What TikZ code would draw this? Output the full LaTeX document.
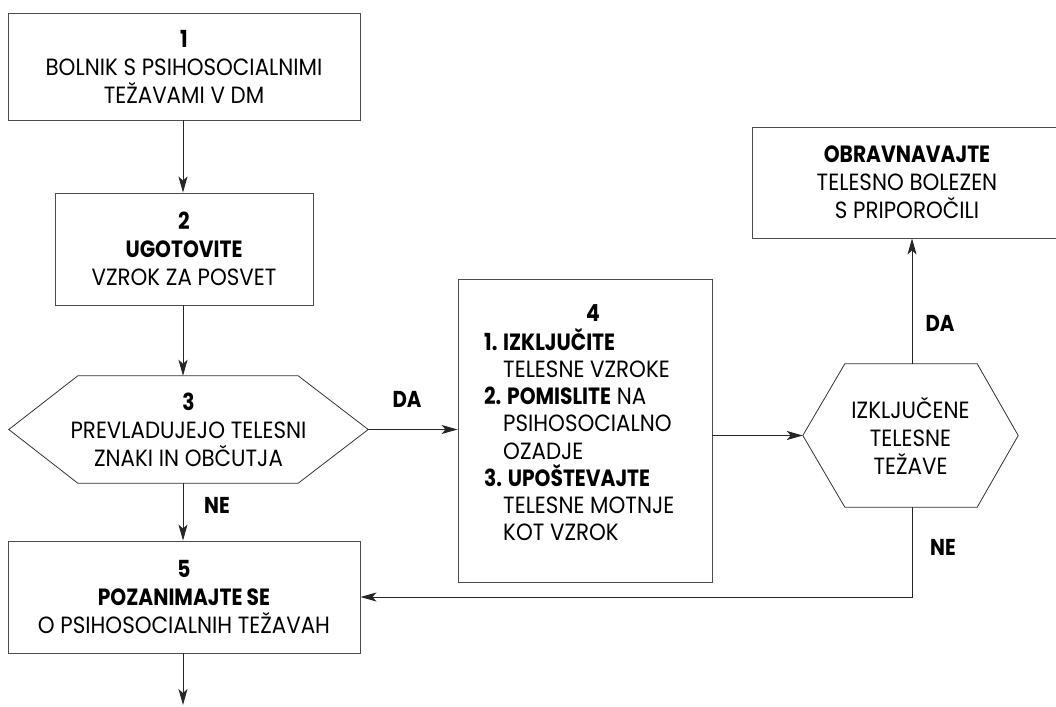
\documentclass[tikz,border=0pt]{standalone}
\usepackage{fontspec}
\setmainfont{Poppins}[UprightFeatures={FakeStretch=0.91},BoldFeatures={FakeStretch=0.86}]
\usetikzlibrary{arrows.meta}
\begin{document}
\begin{tikzpicture}[x=1pt,y=-1pt,
  every node/.style={font=\fontsize{23.5}{28}\selectfont},
  box/.style={draw=black!70,line width=0.9pt,rectangle,inner sep=0pt,align=center},
  hexfr/.style={rectangle,inner sep=0pt,align=center},
  hexline/.style={draw=black!80,line width=0.8pt,line join=miter},
  conn/.style={draw=black!85,line width=0.9pt,-{Stealth[length=16pt,width=9pt,inset=4pt]}},
  lab/.style={font=\fontsize{23}{24}\selectfont\bfseries,inner sep=0pt}]
\useasboundingbox (0,0) rectangle (1056,706);
\clip (0,0) rectangle (1056,706);
% boxes
\node[box,minimum width=352,minimum height=107] (b1) at (184,66.5)
  {\textbf{1}\\BOLNIK S PSIHOSOCIALNIMI\\TEŽAVAMI V DM};
\node[box,minimum width=258,minimum height=112] (b2) at (184,249)
  {\textbf{2}\\\textbf{UGOTOVITE}\\VZROK ZA POSVET};
\node[hexfr,minimum width=359,minimum height=107] (h3) at (188.5,429.5)
  {\textbf{3}\\PREVLADUJEJO TELESNI\\ZNAKI IN OBČUTJA};
\draw[hexline] (h3.west) -- ([xshift=69]h3.north west) -- ([xshift=-70]h3.north east)
  -- (h3.east) -- ([xshift=-70]h3.south east) -- ([xshift=69]h3.south west) -- cycle;
\node[box,minimum width=254,minimum height=303] (b4) at (585,430.5) {};
\node[inner sep=0pt] (t4) at (593,313) {\textbf{4}};
\node[inner sep=0pt,align=left,anchor=north west,font=\fontsize{23.5}{27.2}\selectfont] (l4) at (484,328)
  {\textbf{1. IZKLJUČITE}\\
   \phantom{\textbf{1. }}TELESNE VZROKE\\
   \textbf{2. POMISLITE} NA\\
   \phantom{\textbf{1. }}PSIHOSOCIALNO\\
   \phantom{\textbf{1. }}OZADJE\\
   \textbf{3. UPOŠTEVAJTE}\\
   \phantom{\textbf{1. }}TELESNE MOTNJE\\
   \phantom{\textbf{1. }}KOT VZROK};
\node[box,minimum width=352,minimum height=112] (b5) at (184,597)
  {\textbf{5}\\\textbf{POZANIMAJTE SE}\\O PSIHOSOCIALNIH TEŽAVAH};
\node[hexfr,minimum width=215,minimum height=143] (h6) at (910.5,435.5)
  {IZKLJUČENE\\TELESNE\\TEŽAVE};
\draw[hexline] (h6.west) -- ([xshift=42]h6.north west) -- ([xshift=-41]h6.north east)
  -- (h6.east) -- ([xshift=-41]h6.south east) -- ([xshift=42]h6.south west) -- cycle;
\node[box,minimum width=310,minimum height=111] (b7) at (907,182.5)
  {\textbf{OBRAVNAVAJTE}\\TELESNO BOLEZEN\\S PRIPOROČILI};
% labels
\node[lab] (da3) at (407,399) {DA};
\node[lab] (ne3) at (217,505) {NE};
\node[lab] (da6) at (940,323) {DA};
\node[lab] (ne6) at (943,547) {NE};
\coordinate (end) at (183,705);
% connectors
\draw[conn] (b1.south -| 183,0) -- (b2.north -| 183,0);
\draw[conn] (b2.south -| 183,0) -- (h3.north -| 183,0);
\draw[conn] (h3.south -| 183,0) -- (b5.north -| 183,0);
\draw[conn] (h3.east) -- (h3.east -| b4.west);
\draw[conn] (b4.east |- h6.west) -- (h6.west);
\draw[conn] (h6.north -| 912,0) -- (b7.south -| 912,0);
\draw[conn] (h6.south -| 912,0) |- (b5.east);
\draw[conn] (b5.south -| 183,0) -- (end);
\end{tikzpicture}
\end{document}
